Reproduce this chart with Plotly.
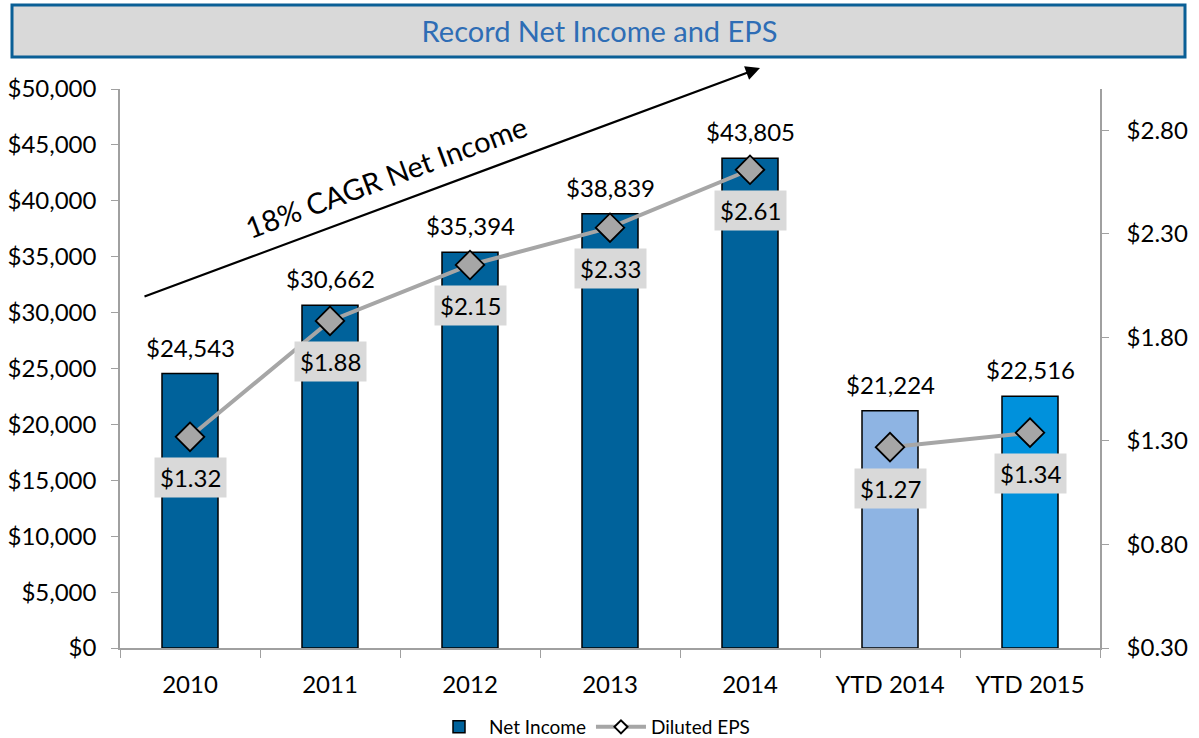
import plotly.graph_objects as go

categories = ["2010", "2011", "2012", "2013", "2014", "YTD 2014", "YTD 2015"]
net_income = [24543, 30662, 35394, 38839, 43805, 21224, 22516]
eps_annual_cats = ["2010", "2011", "2012", "2013", "2014"]
eps_annual = [1.32, 1.88, 2.15, 2.33, 2.61]
eps_ytd_cats = ["YTD 2014", "YTD 2015"]
eps_ytd = [1.27, 1.34]
bar_colors = ["#00629B", "#00629B", "#00629B", "#00629B", "#00629B", "#8EB4E3", "#0091DC"]

FONT = "Lato"
W, H = 1199, 738
L, R, T, B = 120, 99, 89, 90
PW, PH = W - L - R, H - T - B

def px(x):
    return (x - L) / PW

def py(y):
    return (H - B - y) / PH

fig = go.Figure()
fig.add_trace(go.Bar(
    x=categories, y=net_income, name="Net Income",
    marker=dict(color=bar_colors, line=dict(color="#000000", width=1.5)),
    width=0.4, yaxis="y",
))
line_style = dict(color="#A6A6A6", width=4)
marker_style = dict(symbol="diamond", size=22, color="#A6A6A6",
                    line=dict(color="#000000", width=1.8))
fig.add_trace(go.Scatter(
    x=eps_annual_cats, y=eps_annual, name="Diluted EPS", mode="lines+markers",
    line=line_style, marker=marker_style, yaxis="y2", showlegend=False,
))
fig.add_trace(go.Scatter(
    x=eps_ytd_cats, y=eps_ytd, name="Diluted EPS", mode="lines+markers",
    line=line_style, marker=marker_style, yaxis="y2", showlegend=False,
))
# legend entry with a small diamond, as in the original legend
fig.add_trace(go.Scatter(
    x=[None], y=[None], name="Diluted EPS", mode="lines+markers",
    line=line_style, yaxis="y2",
    marker=dict(symbol="diamond", size=10, color="#FFFFFF",
                line=dict(color="#000000", width=2)),
))

annotations = []
for c, v in zip(categories, net_income):
    annotations.append(dict(
        x=categories.index(c), y=v, xref="x", yref="y", text=f"${v:,.0f}", showarrow=False,
        xanchor="center", yanchor="bottom", yshift=10,
        font=dict(family=FONT, size=24, color="#000000"),
    ))
for cats, vals in ((eps_annual_cats, eps_annual), (eps_ytd_cats, eps_ytd)):
    for c, v in zip(cats, vals):
        annotations.append(dict(
            x=categories.index(c), y=v, xref="x", yref="y2", text=f"${v:.2f}", showarrow=False,
            xanchor="center", yanchor="middle", yshift=-41, bgcolor="#D9D9D9", borderpad=5,
            font=dict(family=FONT, size=24, color="#000000"),
        ))

# CAGR arrow and text
annotations.append(dict(
    x=px(760), y=py(68), xref="paper", yref="paper",
    ax=143 - 760, ay=297 - 68, axref="pixel", ayref="pixel",
    text="", showarrow=True, arrowhead=2, arrowsize=1.3, arrowwidth=2.2,
    arrowcolor="#000000",
))
annotations.append(dict(
    x=px(386), y=py(176), xref="paper", yref="paper",
    xanchor="center", yanchor="middle",
    text="18% CAGR Net Income", showarrow=False, textangle=-20.4,
    font=dict(family=FONT, size=29, color="#000000"),
))

shapes = [dict(
    type="rect", xref="paper", yref="paper",
    x0=px(12), x1=px(1185), y0=py(57), y1=py(5),
    fillcolor="#D9D9D9", line=dict(color="#0A5F96", width=3), layer="below",
)]

axis_color = "#A0A0A0"
fig.update_layout(
    width=W, height=H,
    margin=dict(l=L, r=R, t=T, b=B, autoexpand=False),
    plot_bgcolor="#FFFFFF", paper_bgcolor="#FFFFFF",
    font=dict(family=FONT, size=24, color="#000000"),
    title=dict(text="Record Net Income and EPS", x=0.5, xanchor="center",
               y=1 - 32 / H, yanchor="middle", yref="container",
               font=dict(family=FONT, size=29, color="#2E6DB5")),
    xaxis=dict(
        type="category", categoryorder="array", categoryarray=categories,
        showgrid=False, showline=True, linecolor=axis_color, linewidth=1.5,
        ticks="outside", tickson="boundaries", ticklen=8, tickcolor=axis_color,
        tickfont=dict(family=FONT, size=24, color="#000000"),
        ticklabelstandoff=14,
        range=[-0.5, 6.5],
    ),
    yaxis=dict(
        range=[0, 50000], dtick=5000, tickformat="$,.0f", showgrid=False,
        showline=True, linecolor=axis_color, linewidth=1.5, ticks="outside",
        ticklen=7, tickcolor=axis_color, zeroline=False,
        tickfont=dict(family=FONT, size=24, color="#000000"), ticklabelstandoff=10,
    ),
    yaxis2=dict(
        range=[0.3, 3.0], tickvals=[0.3, 0.8, 1.3, 1.8, 2.3, 2.8], tickformat="$.2f",
        overlaying="y", side="right", showgrid=False, showline=True,
        linecolor=axis_color, linewidth=1.5, ticks="outside", ticklen=7,
        tickcolor=axis_color, zeroline=False,
        tickfont=dict(family=FONT, size=24, color="#000000"), ticklabelstandoff=13,
    ),
    legend=dict(orientation="h", x=px(592), xanchor="center", y=py(727),
                yanchor="middle", font=dict(family=FONT, size=19, color="#000000"),
                bgcolor="rgba(0,0,0,0)", itemwidth=50),
    annotations=annotations,
    shapes=shapes,
    showlegend=True,
    bargap=0.6,
)

fig.write_html("out.html", config={"displayModeBar": False},
               post_script="document.body.style.margin='0';")
